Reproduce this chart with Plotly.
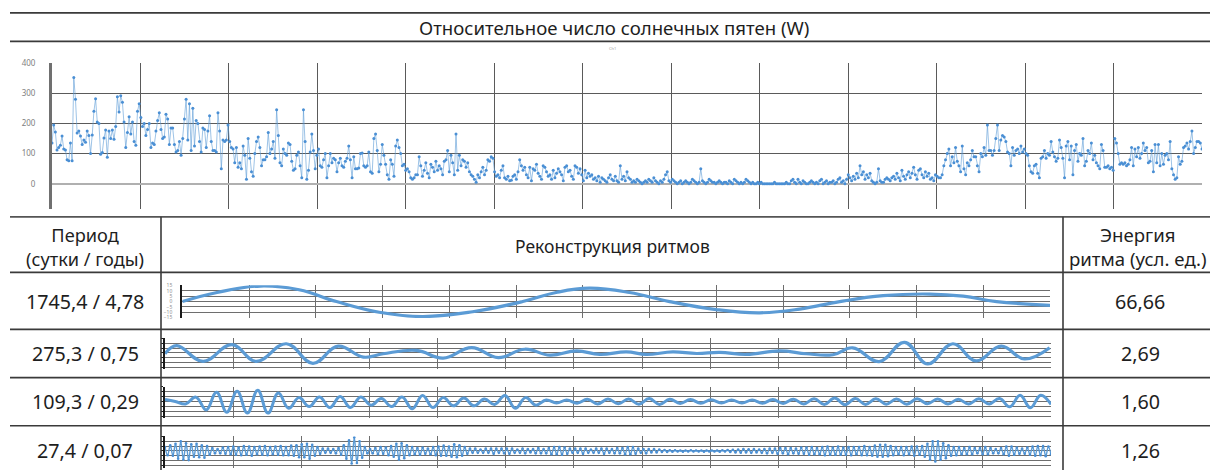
import numpy as np
import plotly.graph_objects as go

W, H = 1210, 472

# ---------------- data ----------------
title_text = "Относительное число солнечных пятен (W)"
series_label = "Ch1"
header_period = "Период<br>(сутки / годы)"
header_recon = "Реконструкция ритмов"
header_energy = "Энергия<br>ритма (усл. ед.)"
periods = ["1745,4 / 4,78", "275,3 / 0,75", "109,3 / 0,29", "27,4 / 0,07"]
energies = ["66,66", "2,69", "1,60", "1,26"]

sunspot_ticks = [0, 100, 200, 300, 400]
sunspots = [
    135,195,172,112,120,128,158,115,112,80,76,135,76,352,280,168,175,158,130,145,138,175,160,100,162,240,282,205,200,98,104,152,178,88,175,150,178,148,190,288,238,292,270,205,120,170,222,165,205,140,128,240,
    265,220,190,200,160,180,200,120,135,130,175,210,235,180,150,155,230,215,130,185,185,130,105,110,140,95,150,215,280,145,265,110,250,125,210,200,140,105,185,180,120,175,225,140,110,110,105,235,175,50,145,140,
    145,195,140,120,115,70,120,55,70,50,125,95,15,150,85,40,25,100,140,155,120,60,80,80,90,170,100,115,140,85,245,160,70,60,115,100,95,135,130,75,45,50,95,105,60,20,245,140,15,45,105,165,110,50,95,115,
    60,55,80,100,20,60,100,70,85,80,40,70,85,60,55,75,85,125,80,20,90,50,50,52,100,102,60,55,60,105,40,35,150,165,110,40,65,130,95,65,30,15,80,65,25,125,145,120,100,60,65,45,50,40,20,15,20,30,
    30,90,60,25,45,70,35,20,65,55,40,75,45,60,50,30,75,80,110,40,95,70,30,165,45,95,60,80,75,55,70,40,30,25,15,5,30,20,40,55,30,45,80,75,90,85,40,25,30,20,45,60,
    20,15,25,10,12,25,30,15,40,80,60,45,55,30,20,55,10,50,45,65,35,25,15,60,55,40,25,30,15,45,20,35,50,40,30,10,55,60,40,45,25,15,60,55,35,50,30,10,45,20,35,25,
    30,15,20,10,25,5,20,15,10,5,20,30,15,10,25,10,5,60,15,25,10,40,20,15,5,10,5,15,10,5,0,5,10,5,15,10,5,20,10,5,0,10,5,15,30,40,10,5,15,10,5,0,
    5,10,0,5,10,5,0,5,15,10,5,0,5,50,10,5,0,5,15,10,5,5,0,5,10,5,0,5,5,0,10,5,0,15,10,5,0,5,0,5,15,10,5,0,5,0,0,5,0,5,0,0,
    0,0,0,0,0,5,0,0,0,0,0,0,5,0,0,10,15,5,0,15,5,0,10,5,0,0,5,10,5,0,5,0,10,15,0,5,10,0,5,5,10,0,5,15,20,5,10,0,15,30,20,10,
    25,15,35,20,60,30,40,15,30,20,35,10,5,0,5,50,10,5,5,15,20,15,10,20,25,15,35,20,10,45,25,15,30,40,20,35,55,30,15,45,50,30,20,40,25,35,15,20,10,30,25,20,
    20,30,60,80,100,115,60,90,70,120,75,60,40,125,50,30,70,60,80,110,90,90,60,40,100,90,120,95,195,110,110,95,110,150,195,110,145,160,155,140,105,100,60,120,95,110,115,100,125,105,
    115,100,95,60,40,35,60,65,35,20,85,90,110,85,100,95,140,105,90,75,85,145,120,85,20,125,140,80,125,30,110,130,75,100,95,150,60,75,110,100,135,80,95,70,60,50,130,110,55,55,60,50,55,45,
    150,135,100,65,70,65,70,60,65,80,120,60,115,90,120,85,100,135,110,120,70,75,110,40,130,70,130,60,100,65,95,100,80,140,50,30,15,20,90,65,75,120,125,135,115,140,175,100,120,140,140,135,115,
]

# rhythm 1745.4 days
r1_t = [0, 0.52, 1.17, 1.75, 2.31, 2.95, 3.6, 4.35, 5.1, 5.6, 6.1, 6.7, 7.3, 8.0, 8.65, 9.25, 9.85, 10.5, 11.2, 11.7, 12.2, 13]
r1_v = [0, 8.5, 14.5, 11, 0, -10, -14, -9.5, 0, 8.5, 12.5, 8.5, 0, -7.5, -10.5, -7, 0, 5.5, 7, 5, 0, -3.5]
r1_ticks = [-15, -10, -5, 0, 5, 10, 15]

# rhythm 275.3 days
r2_t = [0, 0.17, 0.56, 0.98, 1.34, 1.78, 2.17, 2.54, 2.91, 3.2, 3.69, 4.08, 4.5, 4.89, 5.28, 5.65, 6.04, 6.38,
        6.77, 7.06, 7.45, 7.8, 8.14, 8.53, 9.02, 9.41, 9.8, 10.09, 10.48, 10.85, 11.19, 11.56, 11.9, 12.27, 12.61, 12.98]
r2_v = [-0.2, 1.5, -1.8, 1.7, -1.8, 1.9, -2.2, 1.4, -0.9, -0.2, 0.5, -1.1, 1.1, -1.0, 0.75, -0.5, 0.4, -0.35,
        0.2, -0.35, 0.2, -0.15, 0.1, -0.35, 0.4, -0.2, -0.4, 1.05, -1.85, 2.2, -2.35, 1.9, -1.7, 1.4, -1.3, 1.05]

# rhythm 109.3 days (successive extremes)
r3_v = [0.4, 0.0, -0.5, 0.9, -1.75, 1.9, -2.2, 2.1, -2.4, 2.3, -2.4, 1.75, -1.4, 0.8, -1.05, 0.95, -1.25, 1.05,
        -1.25, 0.95, -0.75, 0.6, -1.05, 0.95, -1.5, 1.25, -1.25, 0.8, -0.9, 0.7, -0.9, 0.5, -0.6, 1.25, -1.4, 0.8,
        -0.75, 0.3, -0.3, 0.3, -0.35, 0.45, -0.5, 0.5, -0.45, 0.5, -0.55, 0.6, -0.6, 0.45, -0.4, 0.4, -0.35, 0.35,
        -0.3, 0.3, -0.3, 0.3, -0.35, 0.4, -0.4, 0.45, -0.5, 0.55, -0.6, 0.7, -0.65, 0.6, -0.6, 0.55, -0.55, 0.5,
        -0.55, 0.55, -0.45, 0.5, -0.5, 0.45, -0.5, 0.55, -0.5, 0.6, -1.1, 1.3, -1.3, 1.3, -0.6]

# rhythm 27.4 days (successive extremes)
r4_v = [
    0.8,-0.9,1.2,-1.0,1.5,-1.6,2.0,-1.8,1.6,-1.9,1.4,-1.2,1.5,-1.3,1.2,-1.4,1.0,-0.8,0.6,-0.5,0.4,-0.5,0.7,-0.6,0.8,-0.7,
    0.9,-0.8,0.7,-0.9,1.0,-0.8,0.9,-1.0,0.8,-0.7,0.9,-0.8,1.0,-0.9,0.8,-0.7,0.9,-0.8,1.0,-0.9,0.8,-0.9,1.1,-1.0,1.2,-1.3,
    1.4,-1.3,1.5,-1.6,1.3,-1.0,0.8,-0.6,0.5,-0.4,0.5,-0.4,0.4,-0.5,0.6,-0.8,1.2,-1.6,2.2,-2.6,2.8,-2.5,2.0,-1.4,0.8,-0.5,
    0.4,-0.5,0.6,-0.7,0.8,-0.6,0.7,-0.9,1.0,-1.2,1.5,-1.8,1.6,-1.5,1.2,-0.9,0.8,-0.7,0.6,-0.8,0.7,-0.6,0.5,-0.7,0.8,-0.9,
    0.9,-1.0,1.1,-1.0,0.9,-1.2,1.4,-1.3,1.2,-1.0,0.8,-0.6,0.5,-0.4,0.5,-0.4,0.3,-0.4,0.5,-0.4,0.5,-0.6,0.5,-0.4,0.5,-0.5,
    0.5,-0.6,0.5,-0.4,0.3,-0.4,0.5,-0.5,0.4,-0.3,0.4,-0.5,0.6,-0.5,0.4,-0.5,0.6,-0.7,0.8,-0.7,0.8,-0.8,0.7,-0.6,0.5,-0.4,
    0.5,-0.4,0.5,-0.6,0.5,-0.4,0.3,-0.4,0.5,-0.4,0.5,-0.6,0.5,-0.4,0.4,-0.5,0.6,-0.5,0.6,-0.7,0.8,-0.7,0.8,-0.6,0.5,-0.4,
    0.4,-0.5,0.4,-0.3,0.4,-0.3,0.3,-0.2,0.2,-0.2,0.15,-0.15,0.15,-0.1,0.1,-0.15,0.1,-0.1,0.15,-0.1,0.1,-0.1,0.1,-0.15,0.1,-0.1,
    0.1,-0.1,0.1,-0.15,0.15,-0.1,0.2,-0.2,0.25,-0.3,0.3,-0.35,0.4,-0.3,0.35,-0.4,0.4,-0.3,0.3,-0.4,0.4,-0.5,0.5,-0.4,0.5,-0.6,
    0.6,-0.5,0.6,-0.7,0.6,-0.5,0.5,-0.6,0.7,-0.6,0.7,-0.8,0.8,-0.7,0.6,-0.7,0.8,-0.9,0.9,-0.8,0.7,-0.8,0.9,-0.8,0.7,-0.8,
    0.8,-0.9,0.8,-0.7,0.8,-0.9,1.0,-0.9,0.8,-1.0,1.1,-1.2,1.3,-1.2,1.3,-1.1,1.0,-0.9,0.8,-0.7,0.8,-0.9,0.8,-0.7,0.9,-1.0,
    0.9,-0.8,1.0,-1.2,1.5,-1.8,2.0,-2.2,2.0,-1.8,1.6,-1.5,1.2,-1.0,0.8,-0.9,0.8,-0.7,0.6,-0.7,0.8,-0.7,0.6,-0.5,0.6,-0.7,
    0.8,-0.7,0.6,-0.5,0.4,-0.5,0.6,-0.7,0.9,-1.0,0.9,-0.8,0.7,-0.6,0.5,-0.6,0.7,-0.8,0.9,-1.0,1.0,-0.9,1.0,-1.1,0.9,-0.7,
]
n_years = 13

# ---------------- helpers ----------------
def px(x):
    return x / W

def py(y):
    return 1 - y / H

BLUE = "#5b9bd5"
GRID = "#6e6e6e"
FONT = "Noto Sans"
TXT = "#1e1e1e"

fig = go.Figure()

# sunspot series
n = len(sunspots)
fig.add_trace(go.Scatter(
    x=list(range(n)), y=sunspots, mode="lines+markers",
    line=dict(color="rgba(91,155,213,0.6)", width=1),
    marker=dict(size=3, color="#4a8fd4"),
    xaxis="x", yaxis="y", hoverinfo="skip"))

fig.add_trace(go.Scatter(x=r1_t, y=r1_v, mode="lines",
                         line=dict(color=BLUE, width=3.2, shape="spline", smoothing=1.2),
                         xaxis="x2", yaxis="y2", hoverinfo="skip"))
fig.add_trace(go.Scatter(x=r2_t, y=r2_v, mode="lines",
                         line=dict(color=BLUE, width=3.2, shape="spline", smoothing=1.2),
                         xaxis="x3", yaxis="y3", hoverinfo="skip"))
fig.add_trace(go.Scatter(x=np.linspace(0, n_years, len(r3_v)), y=r3_v, mode="lines",
                         line=dict(color=BLUE, width=3.0, shape="spline", smoothing=1.2),
                         xaxis="x4", yaxis="y4", hoverinfo="skip"))
fig.add_trace(go.Scatter(x=np.linspace(0, n_years, len(r4_v)), y=r4_v, mode="lines+markers",
                         line=dict(color=BLUE, width=1.4, shape="spline", smoothing=1.0),
                         marker=dict(size=2.6, color="#4a8fd4"),
                         xaxis="x5", yaxis="y5", hoverinfo="skip"))

layout = dict(
    width=W, height=H, margin=dict(l=0, r=0, t=0, b=0),
    paper_bgcolor="white", plot_bgcolor="white", showlegend=False,
)

# sunspot axes
layout["xaxis"] = dict(domain=[px(52), px(1202)], range=[0, n - 1],
                       tickmode="array", tickvals=list(np.linspace(0, n - 1, 14)),
                       showticklabels=False, showgrid=True, gridcolor="#5a5a5a", gridwidth=1,
                       zeroline=False, showline=False, ticks="")
layout["yaxis"] = dict(domain=[py(207), py(58)], range=[-85, 400],
                       tickmode="array", tickvals=sunspot_ticks,
                       showgrid=True, gridcolor="#5a5a5a", gridwidth=1,
                       zeroline=True, zerolinecolor="#b0b0b0", zerolinewidth=2,
                       showline=True, linecolor="#707070", linewidth=3,
                       tickfont=dict(family=FONT, size=8, color="#808080"),
                       ticks="", ticklabelstandoff=12)

# rhythm rows
rows = [
    (2, 182.3, 1050, 284, 317.3),
    (3, 165, 1051, 338, 369.5),
    (4, 165, 1051, 387.3, 419.3),
    (5, 165, 1051, 437.7, 469.5),
]
for idx, x0, x1, y0, y1 in rows:
    layout[f"xaxis{idx}"] = dict(domain=[px(x0), px(x1)], range=[0, n_years], dtick=1,
                                 showticklabels=False, showgrid=True, gridcolor=GRID, gridwidth=1,
                                 zeroline=False, showline=False, ticks="", anchor=f"y{idx}")
    if idx == 2:
        layout[f"yaxis{idx}"] = dict(domain=[py(y1), py(y0)], range=[-15.3, 15.3],
                                     tickmode="array", tickvals=r1_ticks,
                                     showgrid=True, gridcolor=GRID, gridwidth=1, zeroline=False,
                                     showline=True, linecolor="#1a1a1a", linewidth=2,
                                     tickfont=dict(family=FONT, size=5, color="#909090"),
                                     ticks="", ticklabelstandoff=7, anchor=f"x{idx}")
    else:
        layout[f"yaxis{idx}"] = dict(domain=[py(y1), py(y0)], range=[-3.45, 3.05], dtick=1,
                                     showticklabels=False,
                                     showgrid=True, gridcolor=GRID, gridwidth=1, zeroline=False,
                                     showline=True, linecolor="#1a1a1a", linewidth=2,
                                     ticks="outside", ticklen=2, tickcolor="#1a1a1a",
                                     anchor=f"x{idx}")

# table lines
shapes = []
def hline(y, color="#3a3a3a", w=1.6, x0=10, x1=1210):
    shapes.append(dict(type="line", xref="paper", yref="paper", x0=px(x0), x1=px(x1),
                       y0=py(y), y1=py(y), line=dict(color=color, width=w)))
def vline(x, y0, y1, color="#3a3a3a", w=1.6):
    shapes.append(dict(type="line", xref="paper", yref="paper", x0=px(x), x1=px(x),
                       y0=py(y0), y1=py(y1), line=dict(color=color, width=w)))

hline(7)
hline(36)
hline(214.5, color="#555555")
hline(271)
hline(329)
hline(378)
hline(427)
vline(161, 214.5, 472)
vline(1063, 214.5, 472)
layout["shapes"] = shapes

ann = []
def text(x, y, s, size=19, color=TXT):
    ann.append(dict(x=px(x), y=py(y), xref="paper", yref="paper", text=s, showarrow=False,
                    xanchor="center", yanchor="middle",
                    font=dict(family=FONT, size=size, color=color)))

text(614, 22, title_text, size=18.6)
text(612, 43, series_label, size=4, color="#a0a0a0")
text(85, 245, header_period, size=18.2)
text(612, 244, header_recon, size=17.5)
text(1138, 245, header_energy, size=18.6)
row_y = [301, 353, 402, 452]
for yy, p, e in zip(row_y, periods, energies):
    text(85, yy, p, size=19.7)
    text(1140, yy, e, size=19.7)
layout["annotations"] = ann

fig.update_layout(**layout)
fig.write_html("out.html")
